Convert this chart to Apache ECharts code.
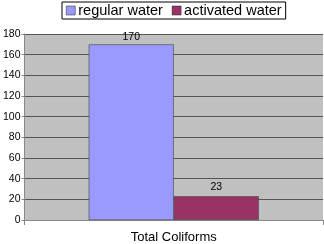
<!DOCTYPE html>
<html><head><meta charset="utf-8">
<script src="https://cdn.jsdelivr.net/npm/echarts@6/dist/echarts.min.js"></script>
<style>html,body{margin:0;padding:0;background:#fff}#c{width:324px;height:244px}</style>
</head><body><div id="c"></div>
<script>
const categories = ["Total Coliforms"];
const regularWater = [170];
const activatedWater = [23];
const yTicks = [0, 20, 40, 60, 80, 100, 120, 140, 160, 180];

const chart = echarts.init(document.getElementById('c'), null, {renderer: 'canvas'});
const font = '"Liberation Sans", Arial, sans-serif';
chart.setOption({
  animation: false,
  legend: {
    top: 2, left: 62,
    padding: [1, 4, 1, 4],
    borderColor: '#000', borderWidth: 1, backgroundColor: '#fff',
    itemWidth: 9, itemHeight: 9, itemGap: 9,
    textStyle: {fontFamily: font, fontSize: 14.5, color: '#000', padding: [0, 0, 0, -2]},
    icon: 'rect',
    data: [
      {name: 'regular water', itemStyle: {borderColor: '#222', borderWidth: 0.5}},
      {name: 'activated water', itemStyle: {borderColor: '#222', borderWidth: 0.5}}
    ]
  },
  grid: {left: 22, right: 1, top: 34, bottom: 24, show: true, backgroundColor: '#c0c0c0', borderWidth: 0},
  xAxis: {
    type: 'category', data: categories,
    axisLine: {show: true, lineStyle: {color: '#888'}},
    axisTick: {show: true, alignWithLabel: false, lineStyle: {color: '#888'}},
    axisLabel: {fontFamily: font, fontSize: 13, color: '#000', margin: 11}
  },
  yAxis: {
    type: 'value', min: yTicks[0], max: yTicks[yTicks.length - 1], interval: 20,
    axisLine: {show: true, lineStyle: {color: '#888'}},
    axisTick: {show: true, length: 3, lineStyle: {color: '#888'}},
    axisLabel: {fontFamily: font, fontSize: 10.5, color: '#000', margin: 4},
    splitLine: {show: true, lineStyle: {color: '#555', width: 1}}
  },
  series: [
    {name: 'regular water', type: 'bar', data: regularWater, barGap: '0%', barCategoryGap: '43%',
     itemStyle: {color: '#9999ff', borderColor: '#444', borderWidth: 0.6},
     label: {show: true, position: 'top', distance: 2, fontFamily: font, fontSize: 10.5, color: '#000'}},
    {name: 'activated water', type: 'bar', data: activatedWater,
     itemStyle: {color: '#993366', borderColor: '#444', borderWidth: 0.6},
     label: {show: true, position: 'top', distance: 4, fontFamily: font, fontSize: 10.5, color: '#000'}}
  ]
});
</script></body></html>
